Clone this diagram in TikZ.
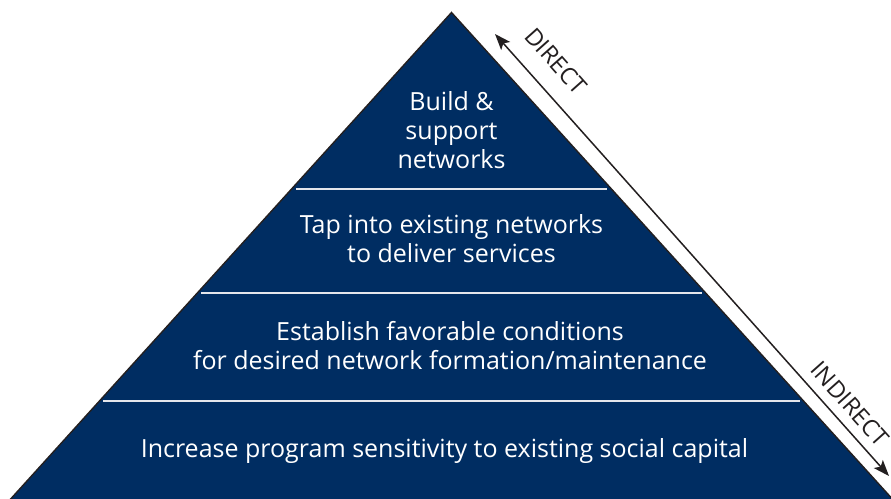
\documentclass[tikz,border=0pt]{standalone}
\usepackage{fontspec}
\setmainfont{Open Sans}
\usetikzlibrary{arrows.meta}
\definecolor{navy}{RGB}{0,45,98}
\definecolor{rulecol}{RGB}{228,230,236}
\definecolor{edgecol}{RGB}{35,31,32}
\tikzset{mytip/.tip={Stealth[length=16pt,width=12pt,inset=3.5pt]}}
\begin{document}
\begin{tikzpicture}[x=1pt,y=-1pt,
  lvl/.style={text=white, align=center, inner sep=0pt, font=\fontsize{25}{29}\selectfont},
  sepline/.style={draw=rulecol, line width=2pt},
  lab/.style={font=\fontsize{23.5}{26}\selectfont, inner sep=0pt, rotate=-48.3, text=edgecol}
]
\useasboundingbox (0,0) rectangle (891,498);
\clip (0,0) rectangle (891,498);
\coordinate (apex) at (451.5,12.5);
\coordinate (bl) at (5.2,505);
\coordinate (br) at (897.8,505);
\draw[edgecol, line width=1.4pt, fill=navy, line join=miter] (bl) -- (apex) -- (br) -- cycle;
\coordinate (s1l) at (296,189); \coordinate (s1r) at (607,189);
\coordinate (s2l) at (201,293); \coordinate (s2r) at (702,293);
\coordinate (s3l) at (103,401); \coordinate (s3r) at (800,401);
\draw[sepline] (s1l) -- (s1r);
\draw[sepline] (s2l) -- (s2r);
\draw[sepline] (s3l) -- (s3r);
\node[lvl] (t1) at (451.5,130.5) {Build \&\\support\\networks};
\node[lvl] (t2) at (451.5,239) {Tap into existing networks\\to deliver services};
\node[lvl] (t3) at (450,345.5) {Establish favorable conditions\\for desired network formation/maintenance};
\node[lvl] (t4) at (444.5,451) {Increase program sensitivity to existing social capital};
\coordinate (dtop) at (495,34);
\coordinate (dbot) at (889,476);
\draw[edgecol, line width=1.5pt, mytip-mytip] (dtop) -- (dbot);
\node[lab] (direct) at (556,61) {DIRECT};
\node[lab] (indirect) at (850,404) {INDIRECT};
\end{tikzpicture}
\end{document}
